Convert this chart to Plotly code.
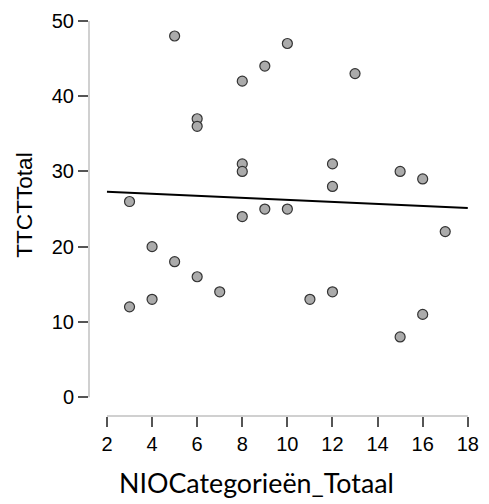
import numpy as np
import plotly.graph_objects as go

# Data
nio_categorieen = [3, 3, 4, 4, 5, 5, 6, 6, 6, 7, 8, 8, 8, 8, 9, 9, 10, 10, 11,
                   12, 12, 12, 13, 15, 15, 16, 16, 17]
ttct_total = [26, 12, 20, 13, 48, 18, 37, 36, 16, 14, 42, 31, 30, 24, 44, 25, 47, 25, 13,
              31, 28, 14, 43, 30, 8, 29, 11, 22]
x_ticks = [2, 4, 6, 8, 10, 12, 14, 16, 18]
y_ticks = [0, 10, 20, 30, 40, 50]

x_title = "NIOCategorieën_Totaal"
y_title = "TTCTTotal"

# Linear regression fit
slope, intercept = np.polyfit(nio_categorieen, ttct_total, 1)
fit_x = [x_ticks[0], x_ticks[-1]]
fit_y = [intercept + slope * v for v in fit_x]

W, H = 489, 504
ml, mr, mt, mb = 89, 10, 10, 88
ppu_x = (474.7 - 107.3) / 16.0
ppu_y = (397.0 - 18.0) / 50.0
plot_w = W - ml - mr
plot_h = H - mt - mb
x0 = 2 - (107.3 - ml) / ppu_x
x1 = x0 + plot_w / ppu_x
y0 = -((H - mb) - 397.0) / ppu_y
y1 = y0 + plot_h / ppu_y

sans = "Liberation Sans"

fig = go.Figure()
fig.add_trace(go.Scatter(
    x=fit_x, y=fit_y, mode="lines",
    line=dict(color="black", width=2), hoverinfo="skip", showlegend=False))
fig.add_trace(go.Scatter(
    x=nio_categorieen, y=ttct_total, mode="markers",
    marker=dict(size=10, color="#ababab", line=dict(color="#333333", width=1.2)),
    showlegend=False))

axis_col = "#d0d0d0"
fig.add_shape(type="line", xref="paper", yref="y", x0=0, x1=0,
              y0=y_ticks[0], y1=y_ticks[-1], line=dict(color=axis_col, width=2), layer="below")
fig.add_shape(type="line", xref="x", yref="paper", x0=x_ticks[0], x1=x_ticks[-1],
              y0=0, y1=0, line=dict(color=axis_col, width=2), layer="below")

fig.add_annotation(text=y_title, xref="paper", yref="paper",
                   x=(23 - ml) / plot_w, y=((H - mb) - 204) / plot_h,
                   textangle=-90, showarrow=False, xanchor="center", yanchor="middle",
                   font=dict(family=sans, size=22.6, color="#000"))
fig.add_annotation(text=x_title, xref="paper", yref="paper",
                   x=(259.5 - ml) / plot_w, y=-((484 - (H - mb)) / plot_h),
                   showarrow=False, xanchor="center", yanchor="middle",
                   font=dict(family="Lato", size=26.8, color="#000"))

fig.update_layout(
    width=W, height=H,
    margin=dict(l=ml, r=mr, t=mt, b=mb, pad=0),
    plot_bgcolor="white", paper_bgcolor="white",
    font=dict(family=sans),
    xaxis=dict(range=[x0, x1], tickvals=x_ticks, ticks="outside", ticklen=10,
               tickwidth=1.5, tickcolor="#555", showgrid=False, zeroline=False,
               showline=False, tickfont=dict(family=sans, size=20, color="#000")),
    yaxis=dict(range=[y0, y1], tickvals=y_ticks, ticks="outside", ticklen=10,
               tickwidth=1.5, tickcolor="#555", showgrid=False, zeroline=False,
               showline=False, tickfont=dict(family=sans, size=20, color="#000")),
)

fig.write_html("out.html")
